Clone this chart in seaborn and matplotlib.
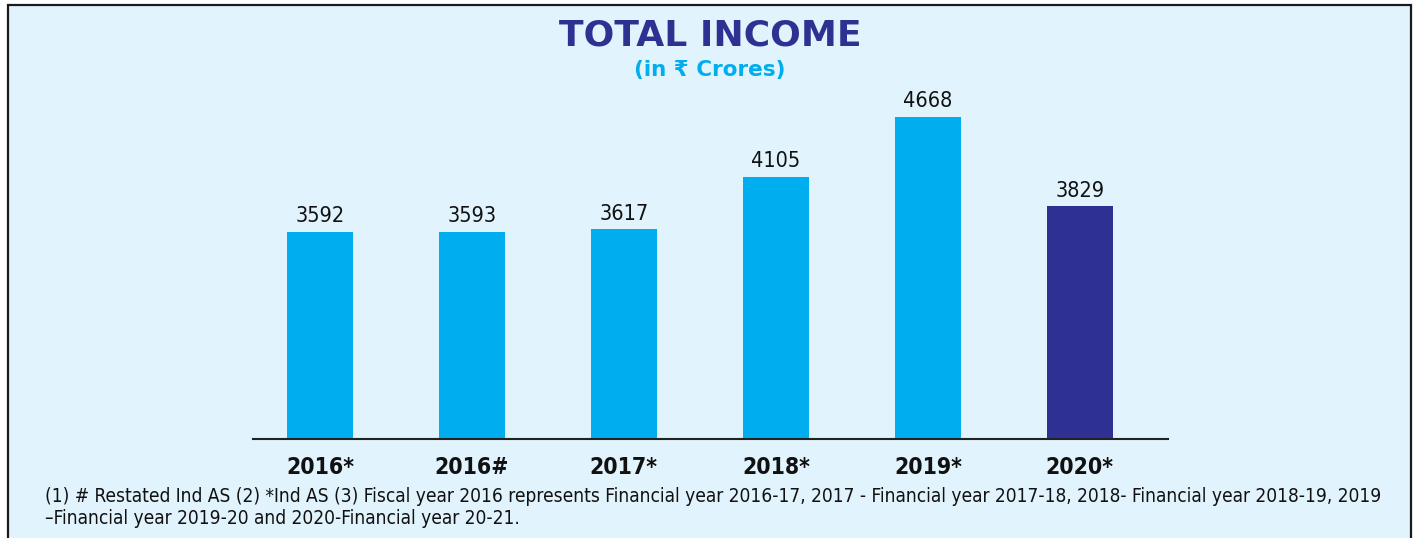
import matplotlib
matplotlib.use('Agg')
import matplotlib.pyplot as plt
from matplotlib.patches import Rectangle
import seaborn as sns

# data
years = ['2016*', '2016#', '2017*', '2018*', '2019*', '2020*']
income = [3592, 3593, 3617, 4105, 4668, 3829]
bar_colors = ['#00aeef', '#00aeef', '#00aeef', '#00aeef', '#00aeef', '#2e3192']

title = 'TOTAL INCOME'
subtitle = '(in \u20b9 Crores)'
footnote = ('(1) # Restated Ind AS (2) *Ind AS (3) Fiscal year 2016 represents Financial year 2016-17, '
            '2017 - Financial year 2017-18, 2018- Financial year 2018-19, 2019\n'
            '\u2013Financial year 2019-20 and 2020-Financial year 20-21.')

bg = '#e1f3fc'
navy = '#2e3192'
cyan = '#00aeef'

sns.set_theme(style='white')
plt.rcParams['font.family'] = ['DejaVu Sans']
plt.rcParams['font.stretch'] = 'condensed'

fig = plt.figure(figsize=(14.16, 5.38), dpi=100, facecolor='white')

# light blue panel with dark border
panel = Rectangle((8 / 1416, -0.05), (1411 - 8) / 1416, 1.05 - 5 / 538,
                  transform=fig.transFigure, facecolor=bg, edgecolor='#1a1a1a',
                  linewidth=1.6, zorder=-10)
fig.patches.append(panel)

ax = fig.add_axes([253 / 1416, 1 - 439 / 538, 915 / 1416, 339 / 538])
ax.set_facecolor('none')

sns.barplot(x=years, y=income, hue=years, palette=bar_colors, legend=False,
            width=0.43, saturation=1, linewidth=0, ax=ax)

ax.set_xlim(-0.44, 5.58)
ax.set_ylim(1650, 4827)
for c in ax.containers:
    ax.bar_label(c, fmt='%d', padding=4, fontsize=15.5, color='#111111')

for s in ['top', 'right', 'left']:
    ax.spines[s].set_visible(False)
ax.spines['bottom'].set_color('#222222')
ax.spines['bottom'].set_linewidth(1.5)
ax.set_yticks([])
ax.set_ylabel('')
ax.set_xlabel('')
ax.tick_params(axis='x', length=0, pad=12)
for lbl in ax.get_xticklabels():
    lbl.set_fontsize(16.5)
    lbl.set_fontweight('bold')
    lbl.set_color('#111111')

fig.text(710 / 1416, 1 - 35 / 538, title, ha='center', va='center',
         fontsize=26, fontweight='heavy', color=navy, fontstretch='normal')
fig.text(710 / 1416, 1 - 70 / 538, subtitle, ha='center', va='center',
         fontsize=15.5, fontweight='bold', color=cyan, fontstretch='normal')

fig.text(45 / 1416, 1 - 487 / 538, footnote, ha='left', va='top',
         fontsize=13.7, color='#111111', linespacing=1.2)

fig.savefig('out.png', dpi=100, facecolor='white')
